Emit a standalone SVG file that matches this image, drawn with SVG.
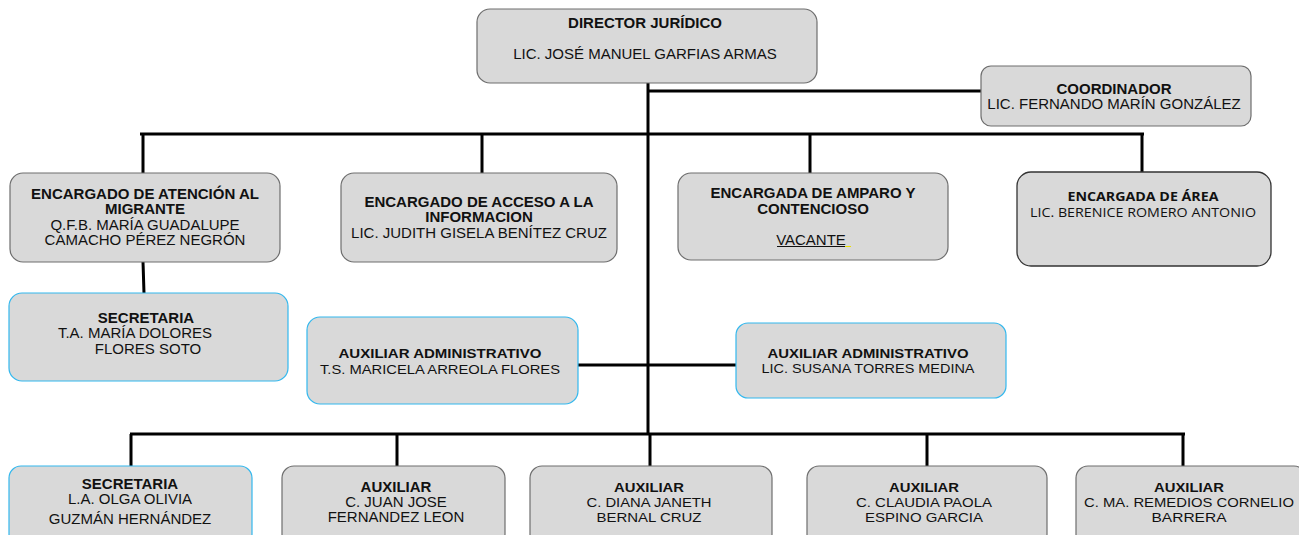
<svg xmlns="http://www.w3.org/2000/svg" width="1299" height="535" viewBox="0 0 1299 535">
<style>
.box{fill:#d9d9d9;stroke:#6e6e6e;stroke-width:1.2}
.blue{fill:#d9d9d9;stroke:#33b8ee;stroke-width:1.2}
.dark{fill:#d9d9d9;stroke:#333;stroke-width:1.3}
text{font-family:"Liberation Sans",Arial,sans-serif;font-size:15px;fill:#111;text-anchor:middle}
.b{font-weight:bold}
.c{font-family:"Open Sans","Noto Sans",sans-serif;font-size:12.5px}
.n{font-family:"Liberation Sans Narrow","Liberation Sans",Arial,sans-serif;font-size:13px}
.ln{stroke:#000;stroke-width:3;fill:none}
</style>
<rect width="1299" height="535" fill="#fff"/>
<g id="connectors">
<path class="ln" d="M648 83V434"/>
<path class="ln" d="M648 91H981"/>
<path class="ln" d="M140 134H1144"/>
<path class="ln" d="M143 134V173M482 134V173M810 134V173M1142 134V172"/>
<path class="ln" d="M143 262L144 293"/>
<path class="ln" d="M578 365H736"/>
<path class="ln" d="M130 434H1185"/>
<path class="ln" d="M131 434V466M397 434V466M650 434V466M927 434V466M1183 434V466"/>
</g>
<g id="director">
<rect class="box" x="477" y="9" width="340" height="74" rx="13"/>
<text class="b" x="645" y="28">DIRECTOR JURÍDICO</text>
<text x="645" y="59">LIC. JOSÉ MANUEL GARFIAS ARMAS</text>
</g>
<g id="coordinador">
<rect class="box" x="981" y="66" width="270" height="60" rx="10"/>
<text class="b" x="1114" y="94">COORDINADOR</text>
<text x="1114" y="109">LIC. FERNANDO MARÍN GONZÁLEZ</text>
</g>
<g id="migrante">
<rect class="box" x="10" y="173" width="270" height="89" rx="13"/>
<text class="b" x="145" y="199">ENCARGADO DE ATENCIÓN AL</text>
<text class="b" x="145" y="214">MIGRANTE</text>
<text x="145" y="230">Q.F.B. MARÍA GUADALUPE</text>
<text x="145" y="245">CAMACHO PÉREZ NEGRÓN</text>
</g>
<g id="acceso">
<rect class="box" x="341" y="173" width="276" height="89" rx="13"/>
<text class="b" x="479" y="207">ENCARGADO DE ACCESO A LA</text>
<text class="b" x="479" y="222">INFORMACION</text>
<text x="479" y="238">LIC. JUDITH GISELA BENÍTEZ CRUZ</text>
</g>
<g id="amparo">
<rect class="box" x="678" y="173" width="270" height="87" rx="13"/>
<text class="b" x="813" y="198">ENCARGADA DE AMPARO Y</text>
<text class="b" x="813" y="214">CONTENCIOSO</text>
<text x="811" y="245">VACANTE</text>
<path d="M777 246.5H845" stroke="#111" stroke-width="1"/>
<path d="M845 246.5H851" stroke="#e8e000" stroke-width="1"/>
</g>
<g id="area">
<rect class="dark" x="1017" y="172" width="254" height="94" rx="14"/>
<text class="b c" x="1143" y="201" textLength="151" lengthAdjust="spacingAndGlyphs">ENCARGADA DE ÁREA</text>
<text class="c" x="1143" y="217" textLength="226" lengthAdjust="spacingAndGlyphs">LIC. BERENICE ROMERO ANTONIO</text>
</g>
<g id="secretaria1">
<rect class="blue" x="9" y="293" width="279" height="88" rx="13"/>
<text class="b" x="146" y="323">SECRETARIA</text>
<text x="135" y="338">T.A. MARÍA DOLORES</text>
<text x="148" y="354">FLORES SOTO</text>
</g>
<g id="auxadmin1">
<rect class="blue" x="307" y="317" width="271" height="87" rx="13"/>
<text class="b n" x="440" y="358" textLength="203" lengthAdjust="spacingAndGlyphs">AUXILIAR ADMINISTRATIVO</text>
<text class="n" x="440" y="374" textLength="240" lengthAdjust="spacingAndGlyphs">T.S. MARICELA ARREOLA FLORES</text>
</g>
<g id="auxadmin2">
<rect class="blue" x="736" y="323" width="270" height="75" rx="12"/>
<text class="b n" x="868" y="358" textLength="201" lengthAdjust="spacingAndGlyphs">AUXILIAR ADMINISTRATIVO</text>
<text class="n" x="868" y="373" textLength="213" lengthAdjust="spacingAndGlyphs">LIC. SUSANA TORRES MEDINA</text>
</g>
<g id="secretaria2">
<rect class="blue" x="9" y="466" width="243" height="80" rx="12"/>
<text class="b" x="130" y="489">SECRETARIA</text>
<text x="130" y="504">L.A. OLGA OLIVIA</text>
<text x="130" y="524">GUZMÁN HERNÁNDEZ</text>
</g>
<g id="aux1">
<rect class="box" x="282" y="466" width="223" height="80" rx="12"/>
<text class="b" x="396" y="492">AUXILIAR</text>
<text x="396" y="507">C. JUAN JOSE</text>
<text x="396" y="522">FERNANDEZ LEON</text>
</g>
<g id="aux2">
<rect class="box" x="530" y="466" width="242" height="80" rx="12"/>
<text class="b n" x="649" y="492" textLength="70" lengthAdjust="spacingAndGlyphs">AUXILIAR</text>
<text class="n" x="649" y="507" textLength="125" lengthAdjust="spacingAndGlyphs">C. DIANA JANETH</text>
<text class="n" x="649" y="522" textLength="105" lengthAdjust="spacingAndGlyphs">BERNAL CRUZ</text>
</g>
<g id="aux3">
<rect class="box" x="807" y="466" width="240" height="80" rx="12"/>
<text class="b n" x="924" y="492" textLength="70" lengthAdjust="spacingAndGlyphs">AUXILIAR</text>
<text class="n" x="924" y="507" textLength="136" lengthAdjust="spacingAndGlyphs">C. CLAUDIA PAOLA</text>
<text class="n" x="924" y="522" textLength="118" lengthAdjust="spacingAndGlyphs">ESPINO GARCIA</text>
</g>
<g id="aux4">
<rect class="box" x="1076" y="466" width="230" height="80" rx="12"/>
<text class="b n" x="1189" y="492" textLength="70" lengthAdjust="spacingAndGlyphs">AUXILIAR</text>
<text class="n" x="1189" y="507" textLength="210" lengthAdjust="spacingAndGlyphs">C. MA. REMEDIOS CORNELIO</text>
<text class="n" x="1189" y="522" textLength="75" lengthAdjust="spacingAndGlyphs">BARRERA</text>
</g>
</svg>
